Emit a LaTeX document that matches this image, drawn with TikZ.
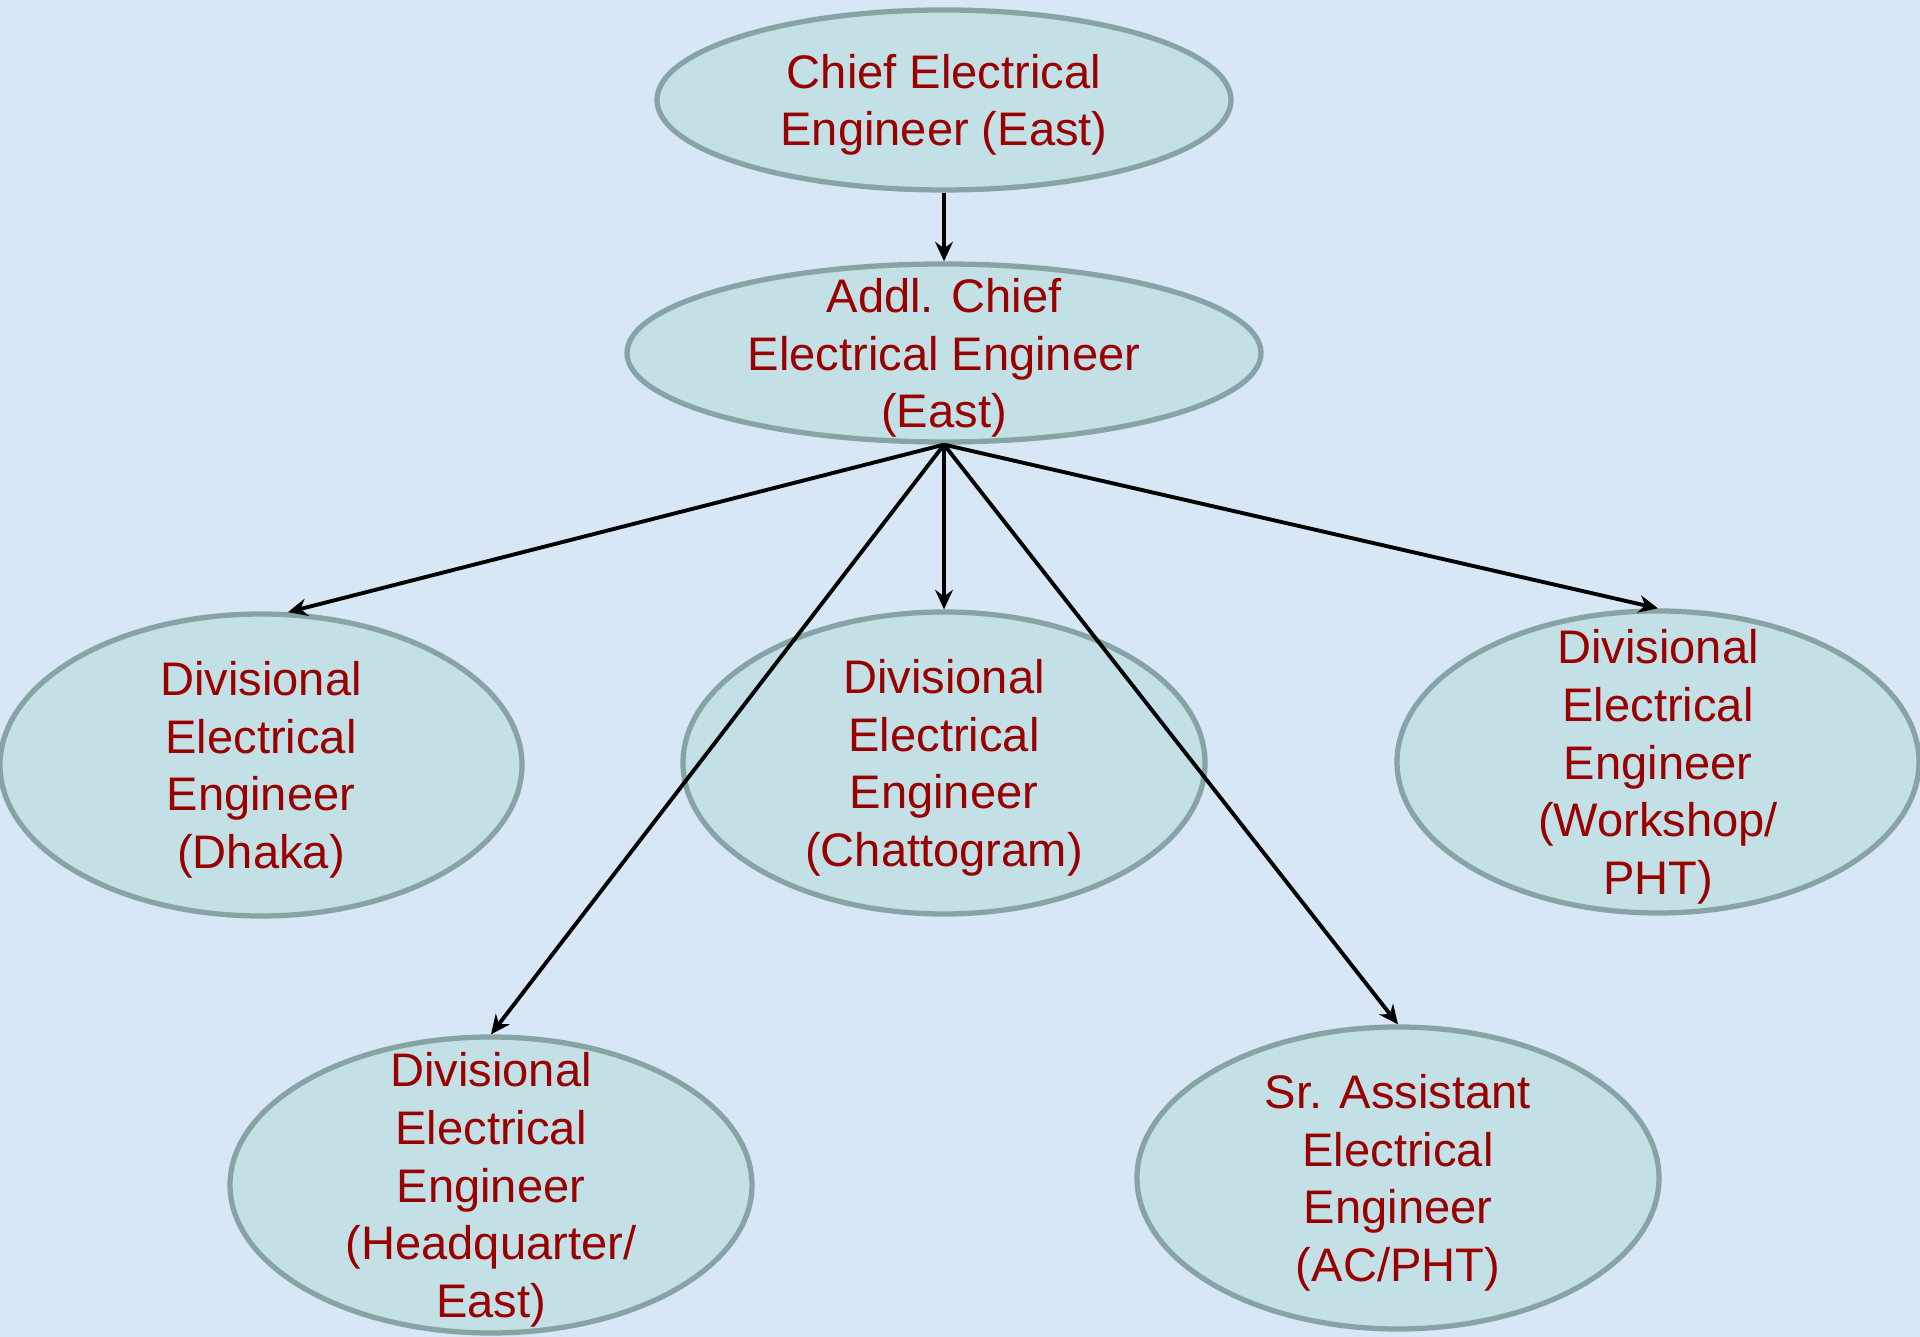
\documentclass[tikz,border=0pt]{standalone}
\usepackage{fontspec}
\setmainfont{Liberation Sans}
\usetikzlibrary{shapes.geometric,arrows.meta}
\definecolor{bgblue}{HTML}{D7E7F5}
\definecolor{postfill}{HTML}{C2E0E5}
\definecolor{postline}{HTML}{86A4A4}
\definecolor{postred}{HTML}{990000}
\tikzset{
  post/.style={ellipse,draw=postline,fill=postfill,line width=1.5pt,
    inner sep=-20pt,minimum width=5.22cm,minimum height=3.02cm,
    align=center,text=postred,text depth=-0.6pt,
    font=\fontsize{13.4}{16.4}\selectfont},
  link/.style={line width=1.1pt,-{Stealth[length=5.5pt,width=5pt]}}
}
\begin{document}
\begin{tikzpicture}
  % background
  \fill[bgblue] (0,0) rectangle (19.2,13.37);
  \useasboundingbox (0,0) rectangle (19.2,13.37);

  \node[post,minimum width=5.74cm,minimum height=1.80cm] (cee) at (9.44,12.37) {Chief Electrical\\Engineer (East)};
  \node[post,minimum width=6.34cm,minimum height=1.78cm] (acee) at (9.44,9.84) {Addl. Chief\\Electrical Engineer\\(East)};

  % divisions
  \node[post] (dhaka) at (2.61,5.72) {Divisional\\Electrical\\Engineer\\(Dhaka)};
  \node[post] (ctg) at (9.44,5.74) {Divisional\\Electrical\\Engineer\\(Chattogram)};
  \node[post] (wks) at (16.58,5.75) {Divisional\\Electrical\\Engineer\\(Workshop/\\PHT)};
  \node[post,minimum height=2.96cm] (hq) at (4.91,1.52) {Divisional\\Electrical\\Engineer\\(Headquarter/\\East)};
  \node[post] (acpht) at (13.98,1.59) {Sr. Assistant\\Electrical\\Engineer\\(AC/PHT)};

  \draw[link] (cee.south) -- (acee.north);
  \draw[link] (acee.south) -- (dhaka.80);% to Dhaka
  \draw[link] (acee.south) -- (ctg.north);% to Chattogram
  \draw[link] (acee.south) -- (wks.north);% to Workshop
  \draw[link] (acee.south) -- (hq.north);% crosses Chattogram
  \draw[link] (acee.south) -- (acpht.north);% crosses Chattogram
\end{tikzpicture}
\end{document}
